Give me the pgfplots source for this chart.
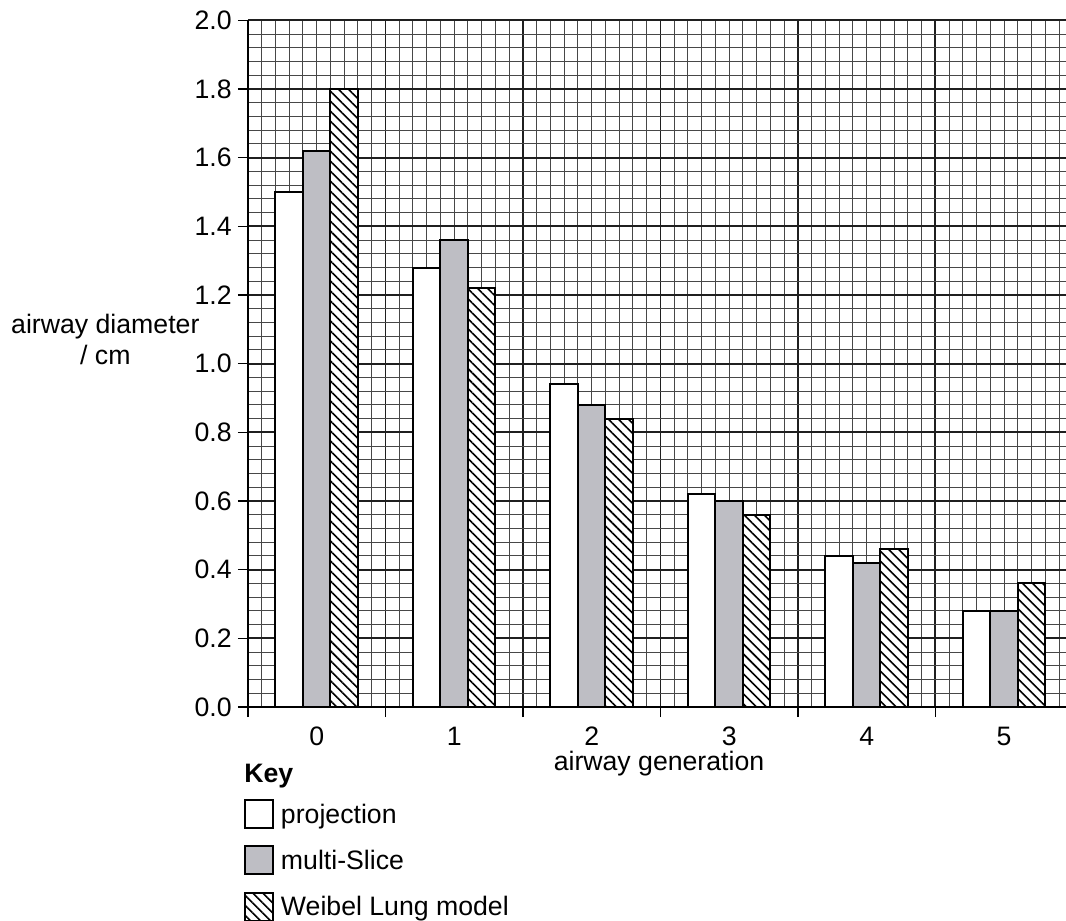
\documentclass[border=0pt]{standalone}
\usepackage{fontspec}
\setmainfont{Liberation Sans}
\usepackage{pgfplots}
\pgfplotsset{compat=1.18}
\usetikzlibrary{patterns.meta}
\definecolor{barGrey}{RGB}{190,190,196}

\begin{document}
\begin{tikzpicture}[font=\fontsize{20}{23.3}\selectfont]
\begin{axis}[
  name=ax, at={(0,0)}, anchor=south west,
  scale only axis, width=613.5pt, height=515pt,
  xmin=-0.5, xmax=5.45, ymin=0, ymax=2.0,
  axis x line*=bottom, axis y line*=left,
  axis line style={line width=1.5pt, -},
  clip=false,
  ybar, bar width=0.2,
  /pgf/number format/assume math mode=true,
  xtick={-0.5,0.5,1.5,2.5,3.5,4.5}, xticklabels={},
  minor xtick={-0.4,-0.3,-0.2,-0.1,0,0.1,0.2,0.3,0.4,
               0.6,0.7,0.8,0.9,1,1.1,1.2,1.3,1.4,
               1.6,1.7,1.8,1.9,2,2.1,2.2,2.3,2.4,
               2.6,2.7,2.8,2.9,3,3.1,3.2,3.3,3.4,
               3.6,3.7,3.8,3.9,4,4.1,4.2,4.3,4.4,
               4.6,4.7,4.8,4.9,5,5.1,5.2,5.3,5.4},
  ytick={0,0.2,0.4,0.6,0.8,1.0,1.2,1.4,1.6,1.8,2.0},
  minor ytick={0.04,0.08,0.12,0.16, 0.24,0.28,0.32,0.36, 0.44,0.48,0.52,0.56,
               0.64,0.68,0.72,0.76, 0.84,0.88,0.92,0.96, 1.04,1.08,1.12,1.16,
               1.24,1.28,1.32,1.36, 1.44,1.48,1.52,1.56, 1.64,1.68,1.72,1.76,
               1.84,1.88,1.92,1.96},
  grid=both,
  major grid style={black!88, line width=1.4pt},
  minor grid style={black!72, line width=0.75pt},
  tick align=outside,
  major tick length=7.5pt, minor tick length=0pt,
  tick style={black, line width=1.2pt},
  extra x ticks={0,1,2,3,4,5},
  extra x tick labels={0,1,2,3,4,5},
  extra x tick style={major tick length=0pt, grid=none,
    xticklabel style={anchor=north, inner sep=0pt, yshift=-15pt}},
  yticklabel style={/pgf/number format/.cd, fixed, fixed zerofill, precision=1, /tikz/.cd, anchor=east, inner sep=0pt, xshift=-4.5pt},
  xlabel={airway generation},
  xlabel style={at={(axis description cs:0.5,0)}, anchor=base, xshift=1.5pt, yshift=-47.25pt, inner sep=0pt},
  ylabel={airway diameter\\/ cm},
  ylabel style={rotate=-90, align=center, at={(axis description cs:0,0.4985)}, anchor=base, xshift=-107pt, inner sep=0pt},
  keybox/.style={legend image code/.code={\draw[##1, line width=1.5pt] (0pt,-3.75pt) rectangle (21pt,17.25pt);}},
  legend style={draw=none, fill=none, at={(axis description cs:0,0)}, anchor=north west,
    xshift=-3pt, yshift=-69pt, inner sep=0pt, outer sep=0pt, row sep=12.2pt,
    nodes={inner sep=0pt, anchor=base west},
    /tikz/every odd column/.append style={column sep=5.25pt}},
  legend cell align=left,
]
\addplot[keybox, fill=white, draw=black, line width=1.5pt, bar shift=-0.2]
  coordinates {(0,1.50) (1,1.28) (2,0.94) (3,0.62) (4,0.44) (5,0.28)};
\addplot[keybox, fill=barGrey, draw=black, line width=1.5pt, bar shift=0]
  coordinates {(0,1.62) (1,1.36) (2,0.88) (3,0.60) (4,0.42) (5,0.28)};
\addplot[keybox, fill=white, draw=black, line width=1.5pt, bar shift=0.2,
  postaction={pattern={Lines[angle=-45,distance=5.3pt,line width=1.2pt]}}]
  coordinates {(0,1.80) (1,1.22) (2,0.84) (3,0.56) (4,0.46) (5,0.36)};
\legend{projection, multi-Slice, Weibel Lung model}
\node[font=\fontsize{20}{23.3}\selectfont\bfseries, anchor=base west, inner sep=0pt, xshift=-3pt, yshift=-56.25pt] at (axis description cs:0,0) {Key};
\end{axis}
\pgfresetboundingbox
\path[use as bounding box] (-186pt,-159.75pt) rectangle (613.5pt,530.25pt);
\end{tikzpicture}
\end{document}
